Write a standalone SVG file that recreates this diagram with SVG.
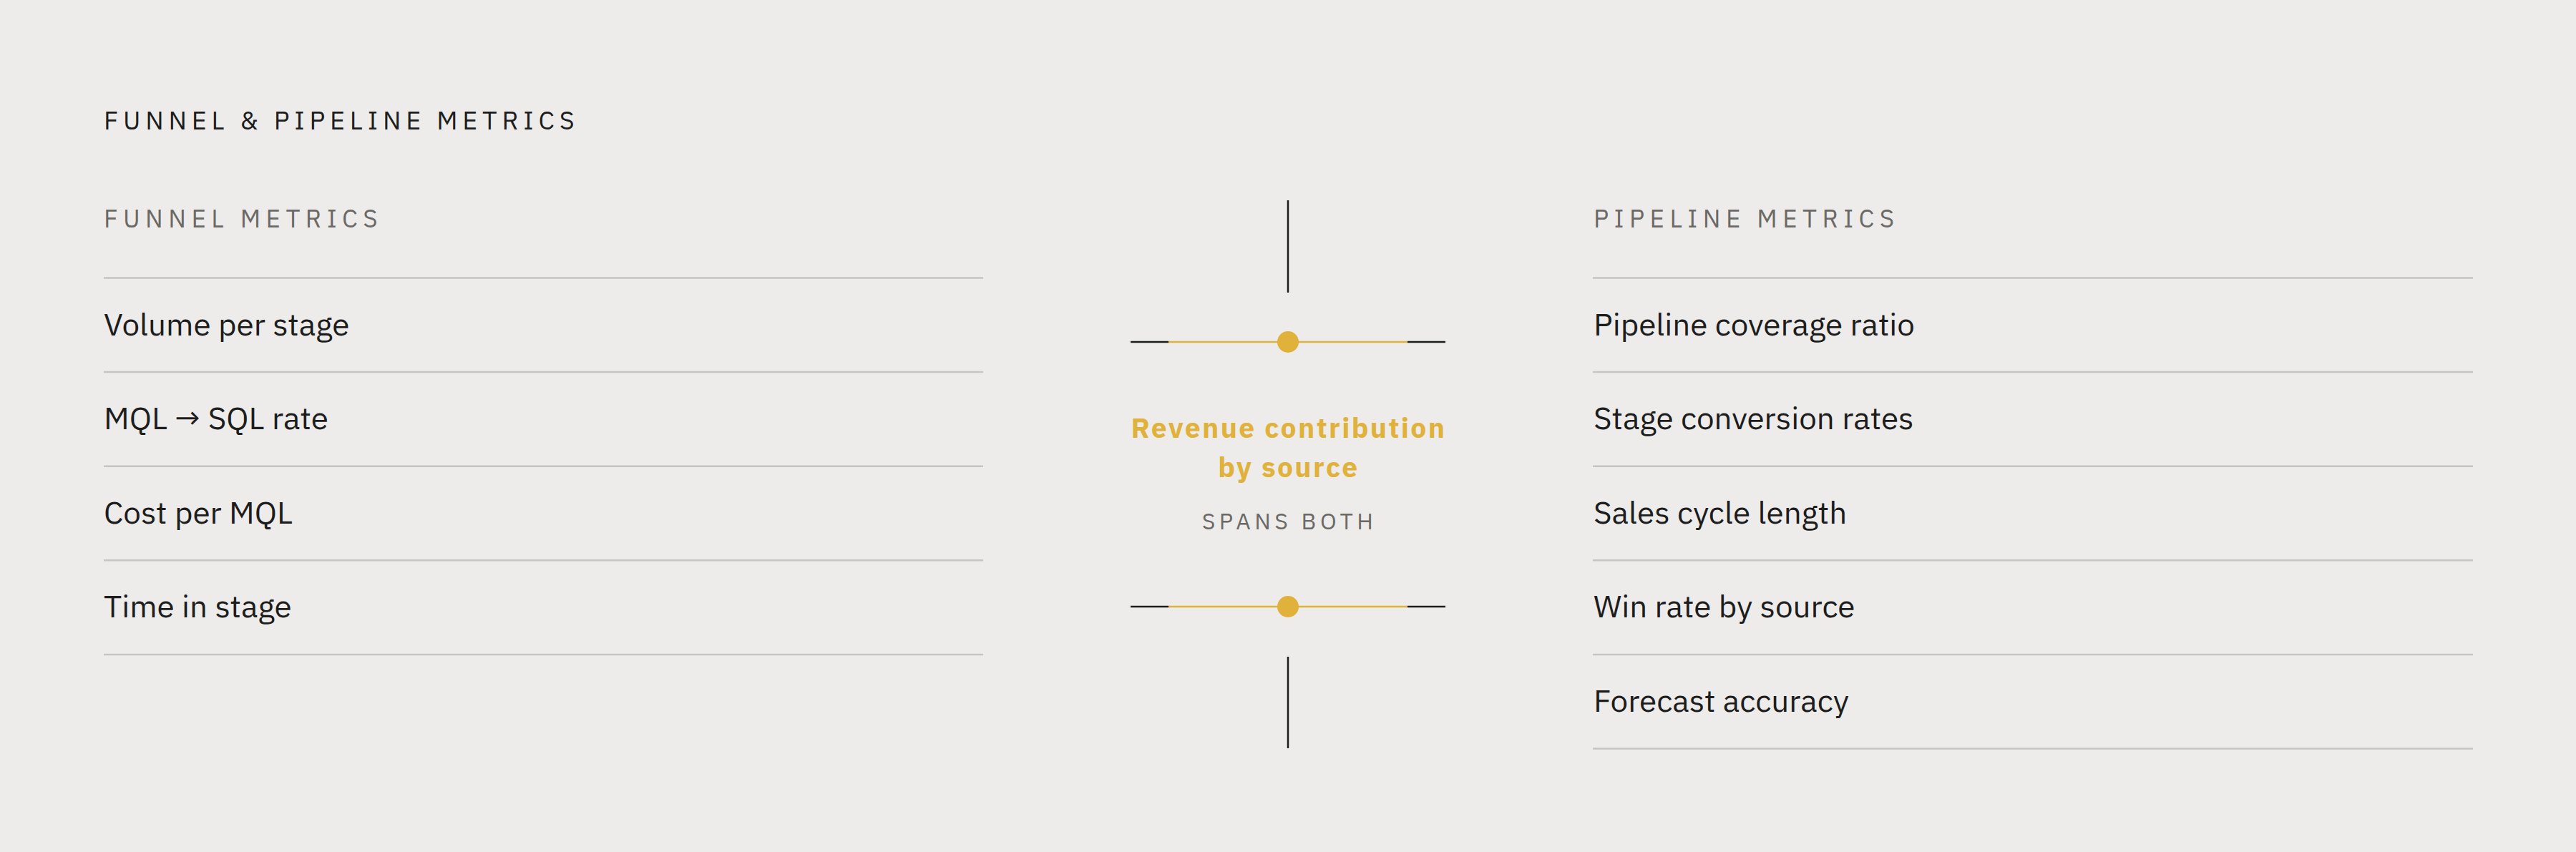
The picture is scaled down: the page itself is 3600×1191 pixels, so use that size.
<svg xmlns="http://www.w3.org/2000/svg" width="3600" height="1191" viewBox="0 0 3600 1191">
<style>
.bg{fill:#edecea}
.title{font-family:"IBM Plex Sans","Liberation Sans",Arial,sans-serif;font-size:36px;letter-spacing:6.8px;fill:#1d1d1d}
.sub{font-family:"IBM Plex Sans","Liberation Sans",Arial,sans-serif;font-size:35px;letter-spacing:7.4px;fill:#6b6966}
.item{font-family:"IBM Plex Sans","Liberation Sans",Arial,sans-serif;font-size:44px;fill:#1d1d1d}
.rule{stroke:#c6c5c2;stroke-width:2.5}
.hub{font-family:"IBM Plex Sans","Liberation Sans",Arial,sans-serif;font-size:39px;font-weight:700;letter-spacing:2.4px;fill:#e0b23c}
.spans{font-family:"IBM Plex Sans","Liberation Sans",Arial,sans-serif;font-size:32px;letter-spacing:5.5px;fill:#6b6966}
.dark{stroke:#1d1d1d;stroke-width:2.5}
.gold{stroke:#e0b23c;stroke-width:2.5}
.dot{fill:#e0b23c}
</style>
<rect class="bg" x="0" y="0" width="3600" height="1191"/>
<g id="title">
<text class="title" x="145" y="181">FUNNEL &amp; PIPELINE METRICS</text>
</g>
<g id="funnel-metrics">
<text class="sub" x="145" y="318">FUNNEL METRICS</text>
<line class="rule" x1="145" y1="388.5" x2="1374" y2="388.5"/>
<text class="item" x="145" y="468.5">Volume per stage</text>
<line class="rule" x1="145" y1="520.1" x2="1374" y2="520.1"/>
<text class="item" x="145" y="600.1">MQL → SQL rate</text>
<line class="rule" x1="145" y1="651.7" x2="1374" y2="651.7"/>
<text class="item" x="145" y="731.7">Cost per MQL</text>
<line class="rule" x1="145" y1="783.3" x2="1374" y2="783.3"/>
<text class="item" x="145" y="863.3">Time in stage</text>
<line class="rule" x1="145" y1="914.9" x2="1374" y2="914.9"/>
</g>
<g id="pipeline-metrics">
<text class="sub" x="2227" y="318">PIPELINE METRICS</text>
<line class="rule" x1="2226" y1="388.5" x2="3456" y2="388.5"/>
<text class="item" x="2227" y="468.5">Pipeline coverage ratio</text>
<line class="rule" x1="2226" y1="520.1" x2="3456" y2="520.1"/>
<text class="item" x="2227" y="600.1">Stage conversion rates</text>
<line class="rule" x1="2226" y1="651.7" x2="3456" y2="651.7"/>
<text class="item" x="2227" y="731.7">Sales cycle length</text>
<line class="rule" x1="2226" y1="783.3" x2="3456" y2="783.3"/>
<text class="item" x="2227" y="863.3">Win rate by source</text>
<line class="rule" x1="2226" y1="914.9" x2="3456" y2="914.9"/>
<text class="item" x="2227" y="994.9">Forecast accuracy</text>
<line class="rule" x1="2226" y1="1046.5" x2="3456" y2="1046.5"/>
</g>
<g id="connectors">
<line class="dark" x1="1800" y1="280" x2="1800" y2="409"/>
<line class="dark" x1="1580" y1="478" x2="1633" y2="478"/>
<line class="gold" x1="1633" y1="478" x2="1967" y2="478"/>
<line class="dark" x1="1967" y1="478" x2="2020" y2="478"/>
<circle class="dot" cx="1800" cy="478" r="15"/>
<line class="dark" x1="1580" y1="848" x2="1633" y2="848"/>
<line class="gold" x1="1633" y1="848" x2="1967" y2="848"/>
<line class="dark" x1="1967" y1="848" x2="2020" y2="848"/>
<circle class="dot" cx="1800" cy="848" r="15"/>
<line class="dark" x1="1800" y1="918" x2="1800" y2="1046"/>
</g>
<g id="revenue-contribution">
<text class="hub" x="1801" y="612" text-anchor="middle">Revenue contribution</text>
<text class="hub" x="1801" y="667" text-anchor="middle">by source</text>
<text class="spans" x="1802" y="740" text-anchor="middle">SPANS BOTH</text>
</g>
</svg>
